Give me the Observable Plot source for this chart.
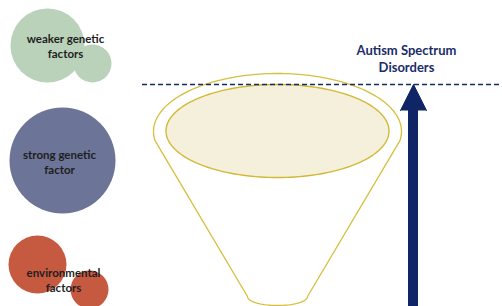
<!DOCTYPE html>
<html><head><meta charset="utf-8">
<script src="https://cdn.jsdelivr.net/npm/d3@7"></script>
<script src="https://cdn.jsdelivr.net/npm/@observablehq/plot@0.6"></script>
<style>body{margin:0;background:#fff}</style>
</head><body><div id="chart"></div>
<script>
// Factor bubbles (diagram units = pixels of a 502x306 canvas)
const bubbleGroup = ["weaker", "weaker", "strong", "environmental", "environmental"];
const bubbleX = [47, 92, 62, 37, 89];
const bubbleY = [45, 63, 160, 264, 289];
const bubbleR = [37, 19, 53, 29, 19];
const groupColors = {weaker: "#bad2b9", strong: "#6c7497", environmental: "#c65a40"};

const labelText = ["weaker genetic\nfactors", "strong genetic\nfactor", "environmental\nfactors"];
const labelX = [65, 59, 63];
const labelY = [45, 161, 279];

const outcomeText = ["Autism Spectrum\nDisorders"];
const thresholdY = 84;

// Funnel geometry
const funnelCx = 277, rimCy = 131, rimRx = 124, rimRy = 58;
const poolCy = 130.5, poolRx = 111.5, poolRy = 46.5;
const bottomY = 296, bottomRx = 30, bottomRy = 9;

const bubbles = bubbleGroup.map((g, i) => ({g, x: bubbleX[i], y: bubbleY[i], r: bubbleR[i]}));
const labels = labelText.map((t, i) => ({t, x: labelX[i], y: labelY[i]}));

function arc(cx, cy, rx, ry, a0, a1, n) {
  const pts = [];
  for (let i = 0; i <= n; i++) {
    const a = a0 + (a1 - a0) * i / n;
    pts.push({x: cx + rx * Math.cos(a), y: cy + ry * Math.sin(a)});
  }
  return pts;
}
const deg = Math.PI / 180;
// outline: rim from lower-left going over top to lower-right, then down, bottom arc, up
const outline = [
  ...arc(funnelCx, rimCy, rimRx, rimRy, (180 - 9) * deg, (360 + 9) * deg, 120),
  ...arc(funnelCx, bottomY, bottomRx, bottomRy, 0, 180 * deg, 40)
];
outline.push(outline[0]);
const pool = arc(funnelCx, poolCy, poolRx, poolRy, 0, 360 * deg, 160);

const arrowX = 413;
const head = [{x: arrowX - 13, y: 110}, {x: arrowX, y: thresholdY}, {x: arrowX + 13, y: 110}];

const chart = Plot.plot({
  width: 502, height: 306, margin: 0,
  x: {domain: [0, 502], range: [0, 502], axis: null},
  y: {domain: [0, 306], range: [0, 306], axis: null},
  r: {type: "identity"},
  style: {background: "#fff"},
  marks: [
    Plot.dot(bubbles, {x: "x", y: "y", r: "r", fill: d => groupColors[d.g], fillOpacity: 1, stroke: "none"}),
    Plot.text(labels, {x: "x", y: "y", text: "t", fill: "#1e1e1e", fontSize: 11.5, fontWeight: "bold", lineHeight: 1.3, fontFamily: "Lato"}),
    Plot.line(pool, {x: "x", y: "y", fill: "#f4f0dc", stroke: "#d2b934", strokeWidth: 1.4}),
    Plot.line(outline, {x: "x", y: "y", stroke: "#d6bf3c", strokeWidth: 1.3}),
    Plot.ruleY([thresholdY], {x1: 142, x2: 502, stroke: "#142a66", strokeWidth: 1.6, strokeDasharray: "5,3"}),
    Plot.rect([{x1: arrowX - 5, x2: arrowX + 5, y1: 108, y2: 306}], {x1: "x1", x2: "x2", y1: "y1", y2: "y2", fill: "#0f2565"}),
    Plot.line(head, {x: "x", y: "y", fill: "#0f2565", stroke: "#0f2565", strokeWidth: 1}),
    Plot.text(outcomeText, {x: 406, y: 58, text: d => d, fill: "#1b2d6b", fontSize: 13, fontWeight: "bold", lineHeight: 1.3, fontFamily: "Lato"})
  ]
});
document.getElementById("chart").appendChild(chart);
</script></body></html>
